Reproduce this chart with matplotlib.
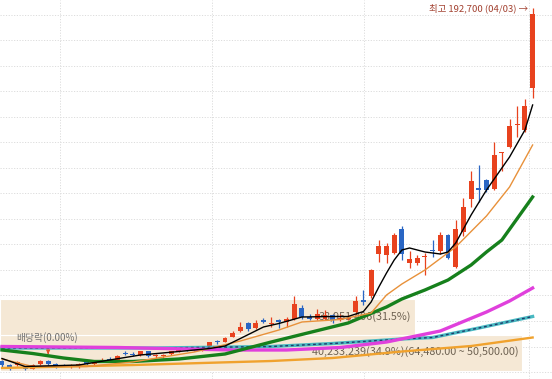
import numpy as np
import matplotlib.pyplot as plt
from matplotlib.patches import Rectangle

plt.rcParams['font.family'] = ['Liberation Sans Narrow', 'Noto Sans CJK KR', 'DejaVu Sans']

# daily candles (won)
opens = [54120, 52740, 52740, 52160, 51370, 53140, 54120, 53140, 52940, 52160,
         52160, 54310, 53140, 54510, 55290, 54900, 57450, 57250, 56670, 58040,
         56080, 56080, 57060, 58040, 60000, 59020, 58430, 60000, 61960, 61960,
         63920, 66270, 69020, 67060, 70390, 68630, 70390, 69800, 70780, 75290,
         71760, 70980, 70980, 72350, 70390, 70980, 73720, 78430, 79610, 96470,
         95880, 96860, 106080, 92940, 92940, 95100, 97840, 97260, 103730, 91370,
         104710, 117650, 122350, 125290, 121960, 135690, 138430, 146860, 144710, 161180]
closes = [52740, 51760, 53920, 51370, 52740, 54310, 53330, 52160, 52550, 52740,
          53330, 53330, 53720, 54900, 54700, 56270, 57060, 56670, 58040, 56470,
          56670, 56860, 58040, 59210, 58630, 58820, 58820, 61570, 61760, 63140,
          65490, 67840, 66860, 69410, 69610, 69410, 69800, 70780, 76860, 71760,
          70780, 72940, 72160, 70390, 71370, 71370, 77650, 77450, 90000, 99220,
          99220, 103730, 96270, 94310, 94510, 95490, 97450, 103730, 94900, 106080,
          114510, 124710, 121370, 121370, 135100, 136080, 146280, 147260, 154120, 190390]
highs = [54700, 53140, 54310, 52350, 53140, 54700, 54510, 53530, 53330, 53140,
         53720, 54700, 54120, 55680, 55880, 56670, 58040, 57840, 58430, 58430,
         57060, 57250, 58430, 59800, 60390, 59410, 59410, 61960, 62550, 63720,
         66080, 69610, 69800, 70390, 71370, 71570, 70980, 71760, 79800, 76270,
         72550, 74900, 74310, 72550, 72550, 72350, 79800, 82160, 90390, 101760,
         100780, 104510, 107450, 97260, 95880, 96670, 101570, 104710, 104310, 109610,
         118040, 128630, 131180, 125880, 140390, 136470, 149410, 154120, 157060, 192700]
lows = [51960, 50980, 52350, 50980, 51180, 52740, 52940, 51570, 52160, 51760,
        51760, 52940, 52740, 54120, 54310, 54700, 56670, 56270, 56270, 55880,
        55680, 55680, 56670, 57650, 58230, 58230, 58040, 59610, 61170, 61570,
        63530, 65880, 66080, 66670, 69020, 67650, 67060, 67840, 70390, 70980,
        70390, 70390, 70390, 69020, 70000, 70390, 72940, 76270, 79020, 93330,
        92940, 96270, 93920, 90590, 91960, 88040, 95290, 96470, 94310, 90590,
        103140, 114900, 116860, 120780, 121370, 128630, 137650, 142350, 144120, 157450]

# moving averages (candle index, price)
ma5_x = [0, 3, 10, 14, 18, 23, 27, 29, 31, 34, 36, 39, 43, 45, 47, 48, 49, 50, 51, 52,
         53, 55, 57, 58, 59, 61, 63, 66, 68, 69]
ma5 = [55290, 52160, 52740, 54700, 56670, 58040, 59210, 60190, 63140, 67650, 69020,
       71570, 71760, 71760, 73720, 77450, 83330, 88820, 93920, 97840, 98630, 97060,
       96270, 97060, 100590, 111570, 121370, 134310, 144900, 154710]
ma10_x = [0, 4, 11, 17, 25, 31, 36, 39, 44, 48, 50, 52, 55, 59, 63, 66, 69]
ma10 = [55100, 52160, 52160, 53920, 57840, 62160, 66470, 69610, 70590, 73140, 80190,
        84510, 90000, 99020, 111180, 122550, 139020]
ma20_x = [0, 4, 8, 12, 17, 23, 29, 35, 40, 45, 50, 52, 55, 58, 61, 63, 65, 69]
ma20 = [58630, 57250, 55490, 54120, 54120, 55100, 57060, 61760, 65490, 69210, 75490,
        78630, 82160, 86080, 91960, 97060, 101760, 118630]
ma60_x = [0, 15, 30, 37, 44, 50, 57, 63, 66, 69]
ma60 = [60000, 59610, 58630, 58630, 59610, 61760, 66080, 73530, 77840, 82940]
ma120_x = [0, 20, 35, 43, 52, 56, 62, 69]
ma120 = [59410, 59410, 60000, 61170, 62940, 63530, 67250, 71760]
ma240_x = [0, 17, 35, 43, 52, 61, 69]
ma240 = [51570, 52740, 54310, 55490, 58040, 60190, 63530]

# volume profile (매물대)
band_lo = [50500, 64480]
band_hi = [64480, 78460]
band_vol = [40233239, 38951406]
band_pct = [34.9, 31.5]
band_len = [0.946, 0.752]  # drawn length

month_lines = [7.5, 27.3, 47.1, 68.5]
high_date = '04/03'
exdiv_idx = 6

red = '#e8421e'
blue = '#2a66c4'
grid_kw = dict(color='#dcdcdc', lw=0.7, ls=(0, (1.2, 1.6)), zorder=0.5)

fig = plt.figure(figsize=(5.52, 3.79), dpi=100)
ax = fig.add_axes([0, 0, 1, 1])
ax.set_xlim(-0.26, 71.52)
ax.set_ylim(47255, 195882)
ax.axis('off')

# grid
for p in range(50000, 200001, 10000):
    ax.axhline(p, **grid_kw)
for m in month_lines:
    ax.axvline(m, **grid_kw)

# volume profile bands
tr = ax.get_yaxis_transform()
for i in range(len(band_lo)):
    ax.add_patch(Rectangle((0, band_lo[i]), band_len[i], band_hi[i] - band_lo[i], transform=tr,
                           facecolor='#f5e8d5', edgecolor='white', lw=0.8, zorder=1))
    lab = f'{band_vol[i]:,}({band_pct[i]}%)'
    if i == 0:
        lab += f'({band_hi[i]:,.2f} ~ {band_lo[i]:,.2f})'
    ax.annotate(lab, xy=(band_len[i], band_hi[i]), xycoords=tr, xytext=(-2.5, -12),
                textcoords='offset points', ha='right', va='center', fontsize=7.8,
                color='#6e6252', zorder=2)

# candles
o = np.array(opens)
c = np.array(closes)
idx = np.arange(len(o))
cols = np.where(c >= o, red, blue)
ax.vlines(idx, lows, highs, colors=cols, lw=0.9, zorder=3)
ax.bar(idx, np.maximum(np.abs(c - o), 350), bottom=np.minimum(o, c), width=0.64,
       color=cols, linewidth=0, zorder=3.1)

# moving averages
ax.plot(ma240_x, ma240, color='#f0a22e', lw=1.7, zorder=4)
ax.plot(ma120_x, ma120, color='#49b9c2', lw=2.4, zorder=4)
ax.plot(ma120_x, ma120, color='#1f3b6b', lw=1.0, ls=(0, (2, 2)), zorder=4.1)
ax.plot(ma60_x, ma60, color='#e040dc', lw=2.4, zorder=4.2)
ax.plot(ma20_x, ma20, color='#16801c', lw=2.4, zorder=4.3)
ax.plot(ma10_x, ma10, color='#e8913a', lw=1.0, zorder=4.4)
ax.plot(ma5_x, ma5, color='black', lw=1.0, zorder=4.5)

# annotations
ax.annotate(f'최고 {highs[-1]:,} ({high_date}) →', xy=(len(highs) - 1, highs[-1]),
            xytext=(-3.5, -0.5), textcoords='offset points', ha='right', va='center',
            fontsize=6.8, color='#a2402f', zorder=5)
ax.text(exdiv_idx - 0.1, 63330, '배당락(0.00%)', ha='center', va='center', fontsize=7,
        color='#707070', zorder=5)
ax.annotate('', xy=(exdiv_idx, 55900), xytext=(exdiv_idx, 58800),
            arrowprops=dict(arrowstyle='-|>', color='#e0502a', lw=0.9, mutation_scale=5),
            zorder=5)

fig.savefig('out.png', dpi=100)
